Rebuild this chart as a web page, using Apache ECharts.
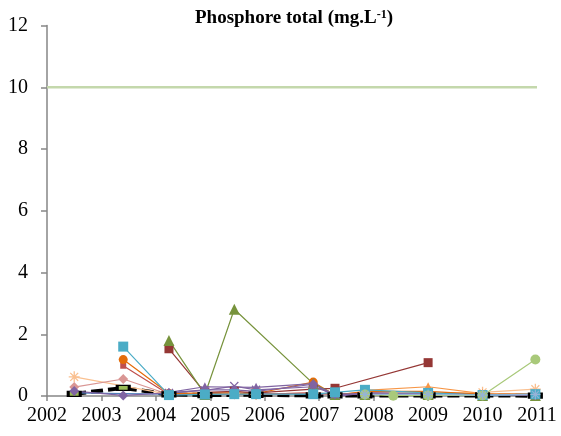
<!DOCTYPE html>
<html>
<head>
<meta charset="utf-8">
<script src="https://cdn.jsdelivr.net/npm/echarts@6/dist/echarts.min.js"></script>
<style>
  html, body { margin: 0; padding: 0; background: #fff; }
  #chart { width: 561px; height: 436px; }
</style>
</head>
<body>
<div id="chart"></div>
<script>
// Sampling dates (decimal years)
var sampleDates = [2002.5, 2003.4, 2004.24, 2004.9, 2005.44, 2005.84, 2006.89, 2007.29, 2007.84, 2008.36, 2009.0, 2010.0, 2010.97];

// Total phosphorus per station (mg/L), null = not sampled
var stationBlack     = [0.07, 0.26, 0.05, 0.03, null, 0.04, 0.02, 0.02, 0.02, null, 0.02, 0.02, 0.01];
var stationBlue      = [0.10, 0.08, 0.06, 0.06, 0.06, 0.06, 0.08, 0.06, 0.08, null, 0.06, 0.05, 0.05];
var stationPeach     = [0.62, null, 0.05, 0.05, 0.08, 0.05, 0.10, 0.05, 0.12, null, 0.10, 0.12, 0.22];
var stationPink      = [0.29, 0.55, 0.05, 0.05, 0.05, 0.05, 0.10, 0.05, 0.05, null, 0.05, 0.05, 0.05];
var stationRedSmall  = [null, 0.98, 0.05, 0.05, 0.05, 0.05, 0.10, 0.05, 0.10, null, 0.05, 0.05, 0.05];
var stationOrange    = [null, 1.18, 0.08, 0.10, 0.10, 0.08, 0.45, 0.02, 0.15, null, 0.15, 0.05, 0.05];
var stationOrangeTri = [null, null, null, null, null, null, null, null, 0.18, null, 0.30, 0.08, 0.06];
var stationDarkRed   = [null, null, 1.53, 0.12, 0.15, 0.10, 0.22, 0.25, null, null, 1.08, null, null];
var stationGreen     = [null, null, 1.80, 0.05, 2.81, null, 0.40, 0.05, 0.05, null, 0.05, 0.02, 0.02];
var stationPurple    = [0.16, 0.02, 0.10, 0.20, 0.20, 0.15, 0.38, 0.05, 0.05, null, 0.05, 0.03, 0.03];
var stationViolet    = [null, null, 0.12, 0.30, null, 0.28, 0.40, -0.02, 0.10, null, 0.08, 0.04, 0.04];
var stationVioletX   = [null, null, 0.10, 0.18, 0.32, 0.20, 0.30, 0.05, 0.08, null, 0.06, 0.04, 0.04];
var stationCyan      = [null, 1.60, 0.03, 0.05, 0.06, 0.06, 0.06, 0.12, 0.20, null, 0.10, 0.03, 0.06];
var stationLightGrn  = [null, null, null, null, null, null, null, null, 0.05, 0.01, 0.02, 0.02, 1.18];
var stationLightBlue = [null, null, null, null, null, null, null, null, 0.05, null, 0.05, 0.03, 0.05];

// Quality threshold
var thresholdValue = 10;
var thresholdRange = [2002, 2011];

var yTicks = { min: 0, max: 12, interval: 2 };
var xTicks = { min: 2002, max: 2011, interval: 1 };

var crossPath = 'path://M0,1 L1,0 L5,4 L9,0 L10,1 L6,5 L10,9 L9,10 L5,6 L1,10 L0,9 L4,5 Z';
var starPath = 'path://M4.4,0 H5.6 V3.6 L8.2,1 L9,1.8 L6.4,4.4 H10 V5.6 H6.4 L9,8.2 L8.2,9 L5.6,6.4 V10 H4.4 V6.4 L1.8,9 L1,8.2 L3.6,5.6 H0 V4.4 H3.6 L1,1.8 L1.8,1 L4.4,3.6 Z';

function pairs(values) {
  var out = [];
  for (var i = 0; i < sampleDates.length; i++) {
    if (values[i] !== null) out.push([sampleDates[i], values[i]]);
  }
  return out;
}

function station(name, values, color, symbol, size, extra) {
  var s = {
    name: name,
    type: 'line',
    data: pairs(values),
    symbol: symbol,
    symbolSize: size,
    showSymbol: symbol !== 'none',
    lineStyle: { color: color, width: 1.2 },
    itemStyle: { color: color },
    z: 3,
    animation: false
  };
  if (extra) {
    for (var k in extra) s[k] = extra[k];
  }
  return s;
}

var chart = echarts.init(document.getElementById('chart'), null, { renderer: 'canvas' });

var series = [
  station('Station 1', stationBlack, '#000000', 'rect', [12, 5], {
    lineStyle: { color: '#000000', width: 4, type: [12, 5] },
    itemStyle: { color: '#9BBB59', borderColor: '#000000', borderWidth: 2 }
  }),
  station('Station 2', stationBlue, '#4F81BD', 'none', 0),
  station('Station 3', stationPeach, '#FAC090', starPath, 11),
  station('Station 4', stationPink, '#D99694', 'diamond', 10),
  station('Station 5', stationRedSmall, '#C0504D', 'rect', 6),
  station('Station 6', stationOrange, '#E46C0A', 'circle', 9),
  station('Station 7', stationOrangeTri, '#F79646', 'triangle', 9),
  station('Station 8', stationDarkRed, '#953735', 'rect', 9),
  station('Station 9', stationGreen, '#77933C', 'triangle', 11),
  station('Station 10', stationPurple, '#8064A2', 'diamond', 10),
  station('Station 11', stationViolet, '#8064A2', 'triangle', 9),
  station('Station 12', stationVioletX, '#8064A2', crossPath, 9),
  station('Station 13', stationCyan, '#4BACC6', 'rect', 10),
  station('Station 14', stationLightGrn, '#A9C97A', 'circle', 10),
  station('Station 15', stationLightBlue, '#95B3D7', starPath, 10),
  {
    name: 'Seuil',
    type: 'line',
    data: [[thresholdRange[0], thresholdValue], [thresholdRange[1], thresholdValue]],
    symbol: 'none',
    lineStyle: { color: '#C4D8AC', width: 2.5 },
    z: 2,
    animation: false
  }
];

chart.setOption({
  backgroundColor: '#ffffff',
  animation: false,
  title: {
    text: '{b|Phosphore total (mg.L}{s|-1}{b|)}',
    left: 289,
    textAlign: 'center',
    top: 4,
    textStyle: {
      rich: {
        b: { fontFamily: 'Liberation Serif', fontWeight: 'bold', fontSize: 19, color: '#000' },
        s: { fontFamily: 'Liberation Serif', fontWeight: 'bold', fontSize: 12, color: '#000', verticalAlign: 'top', padding: [0, 0, 7, 0] }
      }
    }
  },
  grid: { left: 47, right: 24, top: 25.5, bottom: 40, containLabel: false },
  xAxis: {
    type: 'value',
    min: xTicks.min,
    max: xTicks.max,
    interval: xTicks.interval,
    axisLine: { show: true, lineStyle: { color: '#868686', width: 1.5 } },
    axisTick: { show: true, length: 5, lineStyle: { color: '#868686', width: 1.5 } },
    splitLine: { show: false },
    axisLabel: {
      color: '#000',
      fontFamily: 'Liberation Serif',
      fontSize: 20,
      margin: 10,
      formatter: function (v) { return String(v); }
    }
  },
  yAxis: {
    type: 'value',
    min: yTicks.min,
    max: yTicks.max,
    interval: yTicks.interval,
    axisLine: { show: true, lineStyle: { color: '#868686', width: 1.5 } },
    axisTick: { show: true, length: 6, lineStyle: { color: '#868686', width: 1.5 } },
    splitLine: { show: false },
    axisLabel: {
      color: '#000',
      fontFamily: 'Liberation Serif',
      fontSize: 20,
      margin: 19
    }
  },
  series: series
});
</script>
</body>
</html>
